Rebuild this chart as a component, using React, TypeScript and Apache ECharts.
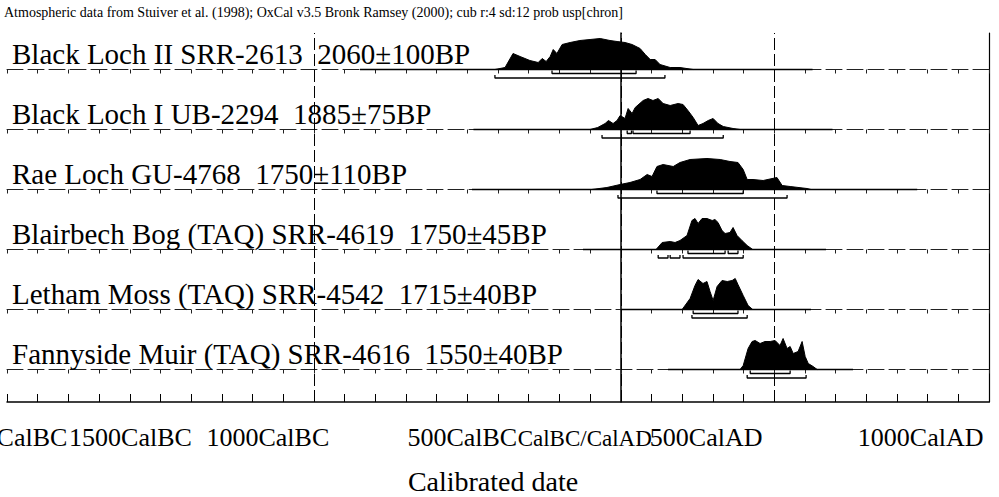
import React, { useEffect, useRef } from "react";
import * as echarts from "echarts";

// ---------------- data ----------------
const TITLE =
  "Atmospheric data from Stuiver et al. (1998); OxCal v3.5 Bronk Ramsey (2000); cub r:4 sd:12 prob usp[chron]";
const X_MIN = -2000;
const X_MAX = 1200;
const MAJOR_TICKS = [-2000, -1500, -1000, -500, 0, 500, 1000];
const TICK_LABELS = ["2000CalBC", "1500CalBC", "1000CalBC", "500CalBC", "CalBC/CalAD", "500CalAD", "1000CalAD"];
const AXIS_NAME = "Calibrated date";
const GUIDE_YEARS = [-1000, 0, 500];

const SAMPLE_NAMES = [
  "Black Loch II SRR-2613",
  "Black Loch I UB-2294",
  "Rae Loch GU-4768",
  "Blairbech Bog (TAQ) SRR-4619",
  "Letham Moss (TAQ) SRR-4542",
  "Fannyside Muir (TAQ) SRR-4616",
];
const SAMPLE_DATES = ["2060±100BP", "1885±75BP", "1750±110BP", "1750±45BP", "1715±40BP", "1550±40BP"];

// Black Loch II
const bl2Years = [-410, -377, -351, -328, -296, -269, -256, -243, -230, -220, -208, -191, -165, -133, -100, -67, -35, -12, 14, 37, 63, 80, 96, 112, 128, 161, 193, 236];
const bl2Prob = [0, 2, 16, 13, 9, 7, 11, 8, 13, 20, 16, 25, 27, 29, 30, 31, 29, 28, 27, 25, 21, 15, 10, 10, 5, 2, 2, 0];
const bl2Range = [-850, 625];
const bl2Sig1 = [[-224, 50]];
const bl2Sig2 = [[-410, 144]];

// Black Loch I
const bl1Years = [-100, -75, -51, -40, -25, -12, -2, 14, 24, 37, 47, 73, 89, 105, 122, 138, 161, 187, 203, 219, 236, 252, 268, 285, 301, 317, 334, 366, 389];
const bl1Prob = [0, 2, 6, 9, 6, 9, 14, 11, 21, 16, 22, 29, 31, 29, 31, 26, 24, 26, 25, 19, 12, 4, 6, 9, 11, 6, 3, 1, 0];
const bl1Range = [-480, 690];
const bl1Sig1 = [[21, 35], [40, 226]];
const bl1Sig2 = [[-61, 334]];

// Rae Loch
const raeYears = [-95, -45, -2, 30, 63, 86, 102, 118, 138, 171, 193, 226, 281, 324, 356, 382, 399, 412, 431, 464, 509, 526, 552, 607, 620];
const raeProb = [0, 2, 5, 7, 10, 15, 13, 23, 25, 23, 27, 30, 31, 30, 28, 27, 20, 10, 10, 9, 12, 4, 3, 1, 0];
const raeRange = [-485, 966];
const raeSig1 = [[118, 399]];
const raeSig2 = [[-9, 542]];

// Blairbech Bog
const bbYears = [115, 135, 161, 177, 193, 216, 232, 242, 252, 265, 281, 298, 307, 317, 330, 340, 356, 366, 379, 395, 412, 430];
const bbProb = [0, 7, 8, 7, 9, 14, 29, 31, 26, 31, 31, 29, 30, 27, 19, 16, 17, 22, 14, 9, 4, 0];
const bbRange = [-123, 669];
const bbSig1 = [[219, 340], [350, 382]];
const bbSig2 = [[122, 154], [161, 193], [203, 399]];

// Letham Moss
const lmYears = [200, 226, 242, 252, 268, 281, 291, 301, 314, 330, 347, 363, 373, 382, 399, 415, 430];
const lmProb = [0, 11, 24, 30, 26, 28, 18, 9, 23, 29, 28, 29, 31, 25, 14, 4, 0];
const lmRange = [0, 620];
const lmSig1 = [[236, 382]];
const lmSig2 = [[232, 412]];

// Fannyside Muir
const fmYears = [389, 399, 415, 428, 438, 454, 470, 487, 503, 519, 529, 542, 552, 562, 578, 591, 601, 611, 627, 640];
const fmProb = [0, 4, 21, 28, 29, 26, 28, 28, 29, 24, 31, 21, 23, 16, 18, 28, 13, 6, 3, 0];
const fmRange = [154, 757];
const fmSig1 = [[422, 552]];
const fmSig2 = [[412, 604]];

const SAMPLES = [
  { years: bl2Years, prob: bl2Prob, range: bl2Range, sig1: bl2Sig1, sig2: bl2Sig2 },
  { years: bl1Years, prob: bl1Prob, range: bl1Range, sig1: bl1Sig1, sig2: bl1Sig2 },
  { years: raeYears, prob: raeProb, range: raeRange, sig1: raeSig1, sig2: raeSig2 },
  { years: bbYears, prob: bbProb, range: bbRange, sig1: bbSig1, sig2: bbSig2 },
  { years: lmYears, prob: lmProb, range: lmRange, sig1: lmSig1, sig2: lmSig2 },
  { years: fmYears, prob: fmProb, range: fmRange, sig1: fmSig1, sig2: fmSig2 },
];

// ---------------- layout ----------------
const W = 999;
const H = 497;
const LEFT = 7;
const RIGHT = 10;
const TOP = 33;
const ROW_H = 60;
const LAST_ROW_H = 69;
const BASE_OFF = 36.5;
const PEAK_PX = 31;
const FONT = "'Liberation Serif', 'Times New Roman', serif";
// horizontal label offsets (px to the left) and sizes, to mimic the original placement
const LABEL_SHIFT = [1, 30, 46, 5, 36, 68, 7];
const LABEL_SIZE = [26, 26, 26, 26, 23, 26, 26];

function buildOption() {
  const n = SAMPLES.length;
  const grids: any[] = [];
  const xAxes: any[] = [];
  const yAxes: any[] = [];
  const series: any[] = [];
  const graphics: any[] = [];

  SAMPLES.forEach((s, i) => {
    const top = TOP + ROW_H * i;
    const h = i === n - 1 ? LAST_ROW_H : ROW_H;
    grids.push({ left: LEFT, right: RIGHT, top, height: h, containLabel: false, outerBoundsMode: "none" });
    xAxes.push({
      type: "value",
      gridIndex: i,
      min: X_MIN,
      max: X_MAX,
      interval: 100,
      position: "top",
      axisLine: { show: true, lineStyle: { color: "#222", width: 1, type: [16, 5] } },
      axisTick: { show: true, inside: true, length: 4, lineStyle: { color: "#222", width: 1 } },
      axisLabel: { show: false },
      splitLine: { show: false },
    });
    yAxes.push({
      type: "value",
      gridIndex: i,
      min: -(h - BASE_OFF) / PEAK_PX,
      max: BASE_OFF / PEAK_PX,
      show: false,
    });
    const maxP = Math.max(...s.prob);
    series.push({
      type: "line",
      xAxisIndex: i,
      yAxisIndex: i,
      data: [[s.range[0], 0], [s.range[1], 0]],
      symbol: "none",
      lineStyle: { color: "#000", width: 1.3 },
      z: 2,
      silent: true,
    });
    series.push({
      type: "line",
      xAxisIndex: i,
      yAxisIndex: i,
      data: s.years.map((y, k) => [y, s.prob[k] / maxP]),
      symbol: "none",
      lineStyle: { color: "#000", width: 1 },
      areaStyle: { color: "#000", opacity: 1 },
      z: 3,
      silent: true,
    });
    const levels = [
      { ranges: s.sig1, y: -4 / PEAK_PX },
      { ranges: s.sig2, y: -8.5 / PEAK_PX },
    ];
    levels.forEach((lv) => {
      lv.ranges.forEach((r) => {
        const up = 3 / PEAK_PX;
        series.push({
          type: "line",
          xAxisIndex: i,
          yAxisIndex: i,
          data: [[r[0], lv.y + up], [r[0], lv.y], [r[1], lv.y], [r[1], lv.y + up]],
          symbol: "none",
          lineStyle: { color: "#000", width: 1.3 },
          z: 4,
          silent: true,
        });
      });
    });
    graphics.push({
      type: "text",
      left: 12,
      top: top + 23 - 16.5,
      style: {
        text: SAMPLE_NAMES[i] + "\u00a0\u00a0" + SAMPLE_DATES[i],
        font: `29px ${FONT}`,
        fill: "#000",
      },
      z: 10,
    });
  });

  const ov = n;
  grids.push({
    left: LEFT,
    right: RIGHT,
    top: TOP,
    bottom: H - (TOP + ROW_H * (n - 1) + LAST_ROW_H),
    containLabel: false,
    outerBoundsMode: "none",
  });
  const rich: any = {};
  LABEL_SHIFT.forEach((sh, k) => {
    const padTop = LABEL_SIZE[k] < 26 ? 3 : 0;
    rich["l" + k] = {
      fontSize: LABEL_SIZE[k],
      fontFamily: FONT,
      color: "#000",
      padding: sh >= 0 ? [padTop, 2 * sh, 0, 0] : [padTop, 0, 0, -2 * sh],
    };
  });
  xAxes.push({
    type: "value",
    gridIndex: ov,
    min: X_MIN,
    max: X_MAX,
    interval: 100,
    position: "bottom",
    axisLine: { show: true, lineStyle: { color: "#000", width: 1.5 } },
    axisTick: { show: true, inside: true, length: 8, lineStyle: { color: "#000", width: 1 } },
    axisLabel: {
      show: true,
      margin: 22,
      hideOverlap: false,
      showMinLabel: true,
      showMaxLabel: true,
      formatter: (v: number) => {
        const k = MAJOR_TICKS.indexOf(v);
        return k < 0 ? "" : `{l${k}|${TICK_LABELS[k]}}`;
      },
      rich,
    },
    splitLine: { show: false },
    name: AXIS_NAME,
    nameLocation: "middle",
    nameGap: 65,
    nameTextStyle: { fontSize: 28, fontFamily: FONT, color: "#000", padding: [0, 10, 0, 0] },
  });
  yAxes.push({
    type: "value",
    gridIndex: ov,
    min: 0,
    max: 1,
    position: "left",
    axisLine: { show: true, lineStyle: { color: "#000", width: 1.5 } },
    axisTick: { show: false },
    axisLabel: { show: false },
    splitLine: { show: false },
  });
  yAxes.push({
    type: "value",
    gridIndex: ov,
    min: 0,
    max: 1,
    position: "right",
    axisLine: { show: true, lineStyle: { color: "#000", width: 1.2 } },
    axisTick: { show: false },
    axisLabel: { show: false },
    splitLine: { show: false },
  });
  series.push({
    type: "line",
    xAxisIndex: ov,
    yAxisIndex: n,
    data: [],
    symbol: "none",
    silent: true,
    markLine: {
      silent: true,
      symbol: "none",
      label: { show: false },
      lineStyle: { color: "#000", width: 1, type: [12, 4] },
      data: GUIDE_YEARS.map((g) => ({ xAxis: g })),
    },
  });

  graphics.push({
    type: "text",
    left: 4,
    top: 5,
    style: { text: TITLE, font: `14px ${FONT}`, fill: "#000" },
  });

  return {
    animation: false,
    backgroundColor: "#fff",
    grid: grids,
    xAxis: xAxes,
    yAxis: yAxes,
    series,
    graphic: graphics,
  };
}

export default function App() {
  const ref = useRef<HTMLDivElement>(null);
  useEffect(() => {
    if (!ref.current) return;
    const chart = echarts.init(ref.current, undefined, { renderer: "svg" });
    chart.setOption(buildOption() as any);
    return () => chart.dispose();
  }, []);
  return (
    <div
      ref={ref}
      style={{ position: "absolute", left: 0, top: 0, width: W, height: H, background: "#fff" }}
    />
  );
}
